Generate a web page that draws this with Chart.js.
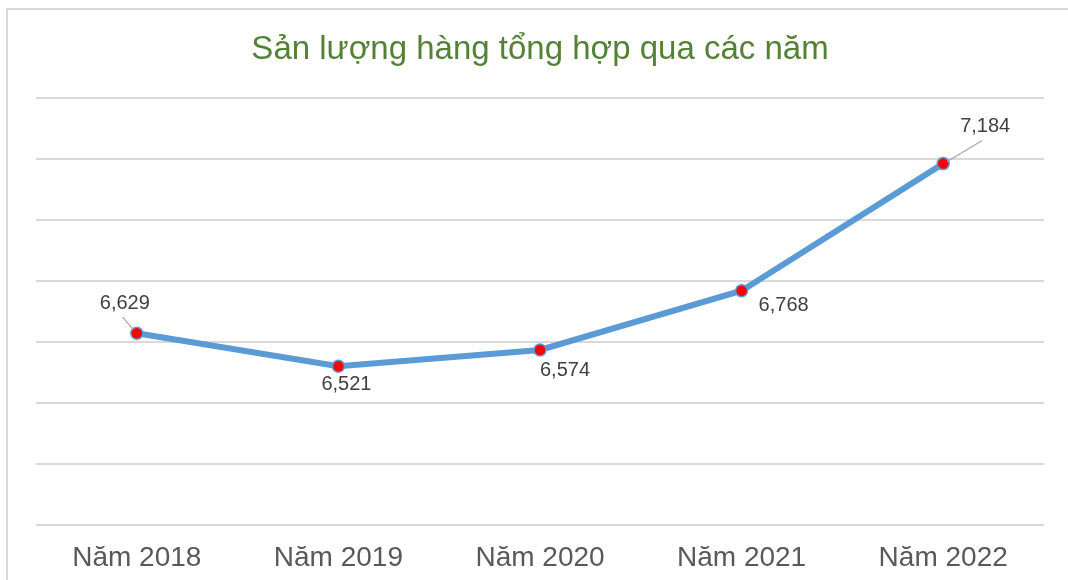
<!DOCTYPE html>
<html>
<head>
<meta charset="utf-8">
<script src="https://cdn.jsdelivr.net/npm/chart.js@4"></script>
<style>
  html, body { margin: 0; padding: 0; background: #ffffff; overflow: hidden; }
  #wrap { position: relative; width: 1068px; height: 580px; overflow: hidden; }
  #frame { position: absolute; left: 6px; top: 8px; width: 1100px; height: 620px;
           border-left: 2px solid #d9d9d9; border-top: 2px solid #d9d9d9; box-sizing: border-box; }
  canvas { position: absolute; left: 0; top: 0; }
</style>
</head>
<body>
<div id="wrap">
  <div id="frame"></div>
  <canvas id="c" width="1068" height="590"></canvas>
</div>
<script>
const chartTitle = "Sản lượng hàng tổng hợp qua các năm";
const categories = ["Năm 2018", "Năm 2019", "Năm 2020", "Năm 2021", "Năm 2022"];
const values = [6629, 6521, 6574, 6768, 7184];
const valueLabels = ["6,629", "6,521", "6,574", "6,768", "7,184"];
const yMin = 6000, yMax = 7400, yStep = 200;

// label placement relative to each point (style only): [dx, dy, leader]
const labelPlacement = [
  [-12, -30, true],
  [8, 18, false],
  [25, 20, false],
  [42, 15, false],
  [42, -37, true]
];

const labelPlugin = {
  id: 'valueLabels',
  afterDatasetsDraw(chart) {
    const ctx = chart.ctx;
    const meta = chart.getDatasetMeta(0);
    ctx.save();
    ctx.font = '20px "Liberation Sans", Arial, sans-serif';
    ctx.fillStyle = '#404040';
    ctx.textAlign = 'center';
    ctx.textBaseline = 'middle';
    meta.data.forEach((pt, i) => {
      const [dx, dy, leader] = labelPlacement[i];
      const tx = pt.x + dx, ty = pt.y + dy;
      if (leader) {
        ctx.strokeStyle = '#a6a6a6';
        ctx.lineWidth = 1.2;
        ctx.beginPath();
        if (dx < 0) {
          ctx.moveTo(tx - 2, ty + 14);
          ctx.lineTo(pt.x - 4, pt.y - 4);
        } else {
          ctx.moveTo(tx - 3, ty + 14);
          ctx.lineTo(pt.x + 4, pt.y - 2);
        }
        ctx.stroke();
      }
      ctx.fillText(valueLabels[i], tx, ty);
    });
    ctx.restore();
  }
};

new Chart(document.getElementById('c'), {
  type: 'line',
  data: {
    labels: categories,
    datasets: [{
      data: values,
      borderColor: '#5b9bd5',
      borderWidth: 6,
      tension: 0,
      pointRadius: 6,
      pointBackgroundColor: '#ff0000',
      pointBorderColor: '#5b9bd5',
      pointBorderWidth: 1.5,
      clip: false
    }]
  },
  options: {
    responsive: false,
    animation: false,
    devicePixelRatio: 1,
    layout: { padding: { left: 36, right: 24, top: 0, bottom: 7 } },
    plugins: {
      legend: { display: false },
      tooltip: { enabled: false },
      title: {
        display: true,
        text: chartTitle,
        color: '#548235',
        font: { family: '"Liberation Sans", Arial, sans-serif', size: 33, weight: 'normal', lineHeight: 1.2 },
        padding: { top: 30, bottom: 28 }
      }
    },
    scales: {
      x: {
        offset: true,
        grid: { display: false },
        border: { display: false },
        ticks: {
          color: '#595959',
          padding: 8,
          font: { family: '"Liberation Sans", Arial, sans-serif', size: 28 }
        }
      },
      y: {
        min: yMin,
        max: yMax,
        ticks: { stepSize: yStep, display: false },
        grid: { color: '#d9d9d9', lineWidth: 2, drawTicks: false },
        border: { display: false }
      }
    }
  },
  plugins: [labelPlugin]
});
</script>
</body>
</html>
